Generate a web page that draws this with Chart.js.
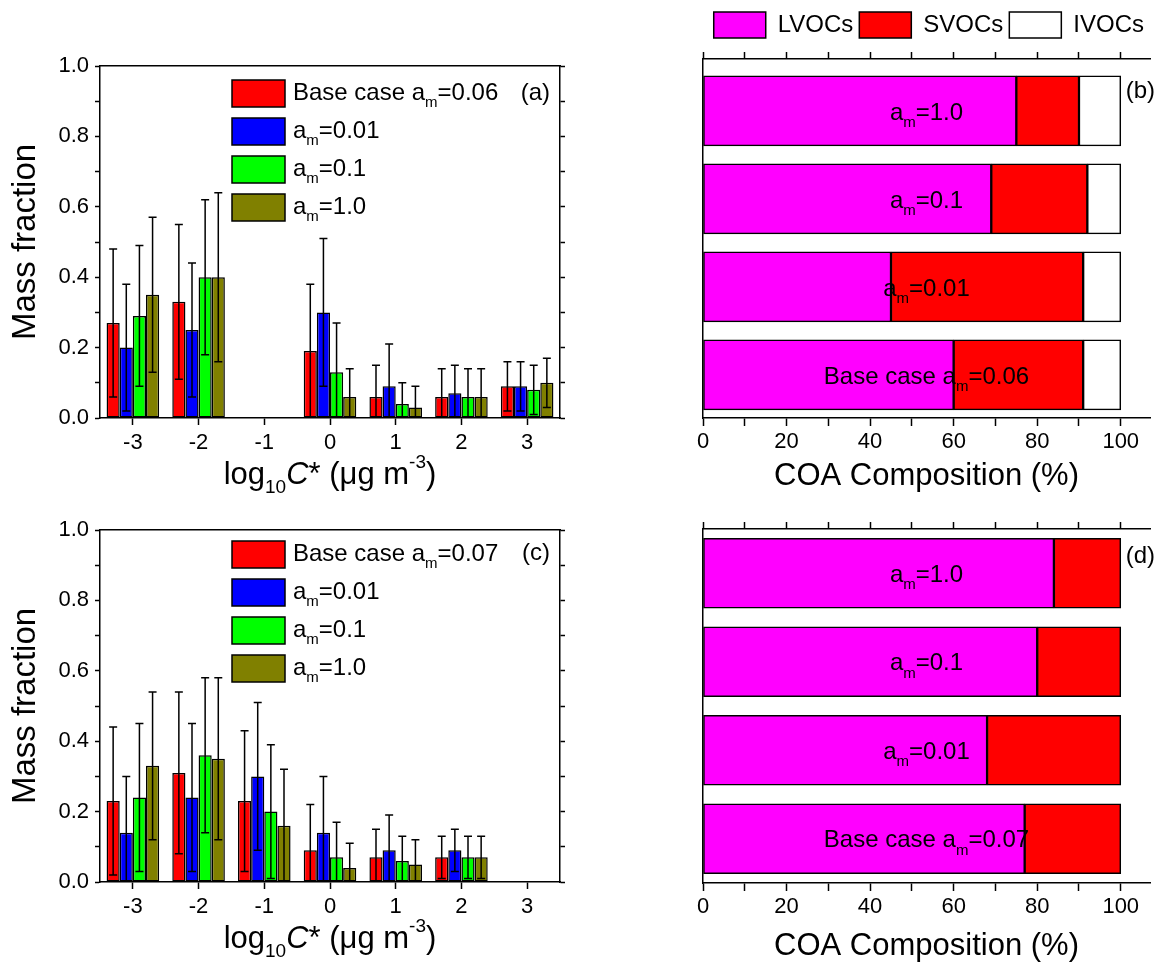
<!DOCTYPE html>
<html>
<head>
<meta charset="utf-8">
<script src="https://cdn.jsdelivr.net/npm/chart.js@4.4.1/dist/chart.umd.min.js"></script>
<style>
  html, body { margin: 0; padding: 0; background: #fff; overflow: hidden; }
  canvas { position: absolute; }
</style>
</head>
<body>
<canvas id="chartA" width="590" height="460" style="left:0;top:40px"></canvas>
<canvas id="chartB" width="469" height="500" style="left:690px;top:0"></canvas>
<canvas id="chartC" width="590" height="463" style="left:0;top:500px"></canvas>
<canvas id="chartD" width="469" height="480" style="left:690px;top:490px"></canvas>
<script>
// log10 C* bins
const binLabels = ['-3', '-2', '-1', '0', '1', '2', '3'];
const seriesColors = ['#FF0000', '#0000FF', '#00FF00', '#808000'];
const namesA = ['Base case aₘ=0.06', 'aₘ=0.01', 'aₘ=0.1', 'aₘ=1.0'];
const namesC = ['Base case aₘ=0.07', 'aₘ=0.01', 'aₘ=0.1', 'aₘ=1.0'];

// panel (a) mass fractions and error bars
const baseA = [0.27, 0.33, null, 0.19, 0.06, 0.06, 0.09];
const errBaseA = [0.21, 0.22, null, 0.19, 0.09, 0.08, 0.07];
const am001A = [0.20, 0.25, null, 0.30, 0.09, 0.07, 0.09];
const errAm001A = [0.18, 0.19, null, 0.21, 0.12, 0.08, 0.07];
const am01A = [0.29, 0.40, null, 0.13, 0.04, 0.06, 0.08];
const errAm01A = [0.20, 0.22, null, 0.14, 0.06, 0.08, 0.07];
const am1A = [0.35, 0.40, null, 0.06, 0.03, 0.06, 0.10];
const errAm1A = [0.22, 0.24, null, 0.08, 0.06, 0.08, 0.07];

// panel (c)
const baseC = [0.23, 0.31, 0.23, 0.09, 0.07, 0.07, null];
const errBaseC = [0.21, 0.23, 0.20, 0.13, 0.08, 0.06, null];
const am001C = [0.14, 0.24, 0.30, 0.14, 0.09, 0.09, null];
const errAm001C = [0.16, 0.21, 0.21, 0.16, 0.10, 0.06, null];
const am01C = [0.24, 0.36, 0.20, 0.07, 0.06, 0.07, null];
const errAm01C = [0.21, 0.22, 0.19, 0.10, 0.07, 0.06, null];
const am1C = [0.33, 0.35, 0.16, 0.04, 0.05, 0.07, null];
const errAm1C = [0.21, 0.23, 0.16, 0.07, 0.07, 0.06, null];

// panels (b) and (d): COA composition, %
const caseNamesB = ['aₘ=1.0', 'aₘ=0.1', 'aₘ=0.01', 'Base case aₘ=0.06'];
const caseNamesD = ['aₘ=1.0', 'aₘ=0.1', 'aₘ=0.01', 'Base case aₘ=0.07'];
const lvocB = [75, 69, 45, 60];
const svocB = [15, 23, 46, 31];
const ivocB = [10, 8, 9, 9];
const lvocD = [84, 80, 68, 77];
const svocD = [16, 20, 32, 23];
const ivocD = [0, 0, 0, 0];

const FONT = '"Liberation Sans", Arial, Helvetica, sans-serif';
Chart.defaults.font.family = FONT;
Chart.defaults.font.size = 22;
Chart.defaults.color = '#000';

// 'ₘ' in a label is drawn as a subscript m
function richParts(str) {
  const parts = [];
  str.split('ₘ').forEach((s, i) => {
    if (i > 0) parts.push({t: 'm', sub: true});
    if (s) parts.push({t: s});
  });
  return parts;
}

function drawRich(ctx, parts, x, y, size, align) {
  const small = Math.round(size * 0.62);
  const fontOf = p => (p.italic ? 'italic ' : '') + ((p.sub || p.sup) ? small : size) + 'px ' + FONT;
  let total = 0;
  parts.forEach(p => {
    ctx.font = fontOf(p);
    p.w = ctx.measureText(p.t).width;
    total += p.w;
  });
  let cx = align === 'center' ? x - total / 2 : x;
  ctx.textAlign = 'left';
  ctx.textBaseline = 'middle';
  ctx.fillStyle = '#000';
  parts.forEach(p => {
    ctx.font = fontOf(p);
    const dy = p.sub ? size * 0.42 : (p.sup ? -size * 0.38 : 0);
    ctx.fillText(p.t, cx, y + dy);
    cx += p.w;
  });
}

const xTitleParts = [
  {t: 'log'}, {t: '10', sub: true}, {t: 'C', italic: true},
  {t: '* (μg m'}, {t: '-3', sup: true}, {t: ')'}
];

const errorBars = {
  id: 'errorBars',
  afterDatasetsDraw(chart) {
    const ctx = chart.ctx, y = chart.scales.y;
    ctx.save();
    ctx.strokeStyle = '#000';
    ctx.lineWidth = 1.5;
    chart.data.datasets.forEach((ds, i) => {
      chart.getDatasetMeta(i).data.forEach((bar, j) => {
        const v = ds.data[j], e = ds.errors[j];
        if (v == null || e == null) return;
        const lo = v - e;
        const yHi = y.getPixelForValue(v + e);
        const yLo = y.getPixelForValue(Math.max(lo, 0));
        ctx.beginPath();
        ctx.moveTo(bar.x, yLo);
        ctx.lineTo(bar.x, yHi);
        ctx.moveTo(bar.x - 4, yHi);
        ctx.lineTo(bar.x + 4, yHi);
        if (lo > 0.004) {
          ctx.moveTo(bar.x - 4, yLo);
          ctx.lineTo(bar.x + 4, yLo);
        }
        ctx.stroke();
      });
    });
    ctx.restore();
  }
};

const panelDecor = {
  id: 'panelDecor',
  afterDraw(chart, args, opts) {
    const ctx = chart.ctx, area = chart.chartArea;
    ctx.save();
    chart.data.datasets.forEach((ds, i) => {
      const bx = area.left + 132, by = area.top + opts.legendTop + 38 * i;
      ctx.fillStyle = ds.backgroundColor;
      ctx.fillRect(bx, by, 53, 27);
      ctx.strokeStyle = '#000';
      ctx.lineWidth = 1.5;
      ctx.strokeRect(bx, by, 53, 27);
      drawRich(ctx, richParts(ds.label), bx + 61, by + 13, 24, 'left');
    });
    ctx.font = '24px ' + FONT;
    ctx.textAlign = 'right';
    ctx.textBaseline = 'middle';
    ctx.fillStyle = '#000';
    ctx.fillText(opts.tag, area.right - 10, area.top + opts.tagTop);
    drawRich(ctx, xTitleParts, (area.left + area.right) / 2, area.bottom + 57, 31, 'center');
    ctx.restore();
  }
};

const barLabels = {
  id: 'barLabels',
  afterDraw(chart, args, opts) {
    const ctx = chart.ctx, x = chart.scales.x, y = chart.scales.y;
    ctx.save();
    opts.names.forEach((name, i) => {
      drawRich(ctx, richParts(name), x.getPixelForValue(opts.labelAt), y.getPixelForValue(i) + 2, 24, 'center');
    });
    ctx.font = '24px ' + FONT;
    ctx.textAlign = 'left';
    ctx.textBaseline = 'middle';
    ctx.fillStyle = '#000';
    ctx.fillText(opts.tag, x.getPixelForValue(100) + 5, chart.chartArea.top + opts.tagTop);
    ctx.restore();
  }
};

const axisLine = {color: '#000', width: 1.5};
const tickGrid = len => ({drawOnChartArea: false, offset: false, tickLength: len, tickColor: '#000', tickWidth: 1.5});

function massFractionChart(id, names, values, errors, deco) {
  return new Chart(document.getElementById(id), {
    type: 'bar',
    data: {
      labels: binLabels,
      datasets: names.map((name, i) => ({
        label: name,
        data: values[i],
        errors: errors[i],
        backgroundColor: seriesColors[i],
        borderColor: '#000',
        borderWidth: 1.5,
        borderSkipped: false,
        categoryPercentage: 0.8,
        barPercentage: 1.0
      }))
    },
    options: {
      responsive: false,
      animation: false,
      layout: {padding: {top: deco.top}},
      plugins: {legend: {display: false}, tooltip: {enabled: false}, panelDecor: deco},
      scales: {
        x: {
          type: 'category',
          grid: tickGrid(7),
          border: axisLine,
          ticks: {padding: 5, maxRotation: 0},
          afterFit: s => { s.height = deco.bottomHeight; }
        },
        xTop: {
          type: 'category',
          position: 'top',
          grid: {drawOnChartArea: false, drawTicks: false},
          ticks: {display: false},
          border: axisLine,
          afterFit: s => { s.height = 0; }
        },
        y: {
          type: 'linear',
          min: 0,
          max: 1,
          ticks: {
            stepSize: 0.1,
            autoSkip: false,
            padding: 6,
            callback: v => (Math.round(v * 10) % 2 === 0 ? v.toFixed(1) : '')
          },
          grid: tickGrid(5),
          border: axisLine,
          title: {display: true, text: 'Mass fraction', font: {size: 33}, padding: {top: 6, bottom: 0}},
          afterFit: s => { s.width = 100; }
        },
        yRight: {
          type: 'linear',
          position: 'right',
          min: 0,
          max: 1,
          ticks: {stepSize: 0.1, display: false},
          grid: tickGrid(5),
          border: axisLine,
          afterFit: s => { s.width = 30; }
        }
      }
    },
    plugins: [errorBars, panelDecor]
  });
}

function compositionChart(id, lvoc, svoc, ivoc, deco) {
  const toPoints = arr => arr.map((v, i) => ({x: v, y: i}));
  const common = {borderColor: '#000', borderWidth: 1.5, borderSkipped: false, barThickness: 70};
  return new Chart(document.getElementById(id), {
    type: 'bar',
    data: {
      datasets: [
        Object.assign({label: 'LVOCs', data: toPoints(lvoc), backgroundColor: '#FF00FF'}, common),
        Object.assign({label: 'SVOCs', data: toPoints(svoc), backgroundColor: '#FF0000'}, common),
        Object.assign({label: 'IVOCs', data: toPoints(ivoc), backgroundColor: '#FFFFFF'}, common)
      ]
    },
    options: {
      indexAxis: 'y',
      responsive: false,
      animation: false,
      layout: {padding: {top: deco.top, right: 9}},
      plugins: {
        legend: {
          display: deco.legend,
          align: 'end',
          labels: {boxWidth: 52, boxHeight: 26, padding: 6, font: {size: 24}, color: '#000'}
        },
        tooltip: {enabled: false},
        barLabels: deco
      },
      scales: {
        x: {
          type: 'linear',
          stacked: true,
          min: 0,
          max: 107,
          ticks: {
            stepSize: 10,
            includeBounds: false,
            autoSkip: false,
            maxRotation: 0,
            padding: 3,
            callback: v => (v % 20 === 0 ? v : '')
          },
          grid: tickGrid(8),
          border: axisLine,
          title: {display: true, text: 'COA Composition (%)', font: {size: 31}, padding: {top: 0, bottom: 5}},
          afterFit: s => { s.height = deco.bottomHeight; }
        },
        xTop: {
          type: 'linear',
          position: 'top',
          min: 0,
          max: 107,
          ticks: {stepSize: 10, includeBounds: false, display: false},
          grid: tickGrid(7),
          border: axisLine,
          afterFit: s => {
            const lg = s.chart.legend;
            const lgH = (lg && deco.legend) ? lg.height : 0;
            s.height = Math.max(0, deco.areaTop - deco.top - lgH);
          }
        },
        y: {
          type: 'linear',
          stacked: true,
          reverse: true,
          offset: false,
          min: deco.yMin,
          max: deco.yMax,
          ticks: {display: false},
          grid: {display: false, offset: false},
          border: axisLine,
          afterFit: s => { s.width = 13; }
        }
      }
    },
    plugins: [barLabels]
  });
}

massFractionChart('chartA', namesA,
  [baseA, am001A, am01A, am1A],
  [errBaseA, errAm001A, errAm01A, errAm1A],
  {top: 26, bottomHeight: 82, legendTop: 14, tag: '(a)', tagTop: 27});

massFractionChart('chartC', namesC,
  [baseC, am001C, am01C, am1C],
  [errBaseC, errAm001C, errAm01C, errAm1C],
  {top: 30, bottomHeight: 81, legendTop: 11, tag: '(c)', tagTop: 23});

compositionChart('chartB', lvocB, svocB, ivocB,
  {legend: true, top: 6, areaTop: 59, bottomHeight: 82, yMin: -0.59, yMax: 3.49,
   names: caseNamesB, labelAt: 53.5, tag: '(b)', tagTop: 32});

compositionChart('chartD', lvocD, svocD, ivocD,
  {legend: false, top: 32, areaTop: 39, bottomHeight: 87, yMin: -0.5, yMax: 3.5,
   names: caseNamesD, labelAt: 53.5, tag: '(d)', tagTop: 27});
</script>
</body>
</html>
